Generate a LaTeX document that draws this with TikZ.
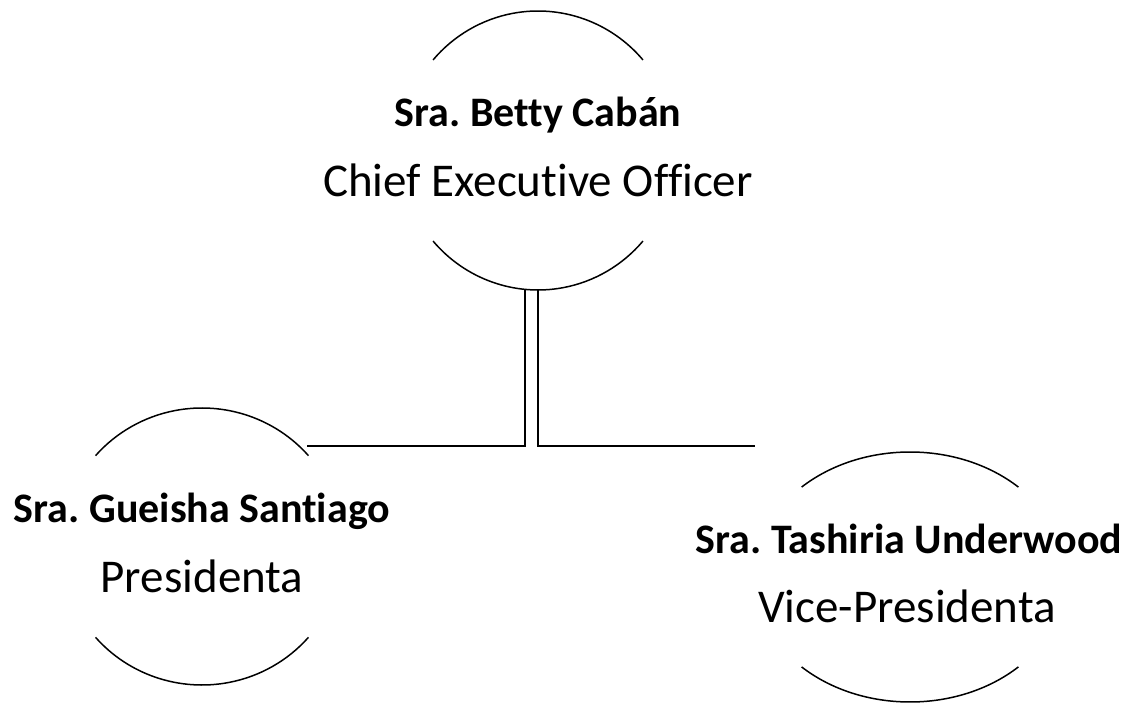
\documentclass[tikz,border=0pt]{standalone}
\usepackage{fontspec}
\setmainfont{Carlito}[Ligatures={NoCommon}]
\frenchspacing
\usepackage{tikz}
\usetikzlibrary{positioning,calc}
\tikzset{
    personname/.style={inner sep=0pt,anchor=base,font=\fontsize{42}{50}\selectfont\bfseries},
    personrole/.style={inner sep=0pt,anchor=base,font=\fontsize{47}{56}\selectfont},
    rim/.style={line width=1.5pt},
    link/.style={line width=1.8pt}
}

\begin{document}
\begin{tikzpicture}[x=1pt,y=1pt]
    \useasboundingbox (0,0) rectangle (1135,702);

    % Chief executive
    \coordinate (ceo) at (538,551.5);
    \node[personname] (ceoname) at (538,575) {Sra. Betty Cabán};
    \node[personrole] (ceorole) at (538,505) {Chief Executive Officer};
    \draw[rim] ([shift={(40.5:138 and 139.5)}]ceo) arc[start angle=40.5,end angle=139.5,x radius=138,y radius=139.5];
    \draw[rim] ([shift={(220.5:138 and 139.5)}]ceo) arc[start angle=220.5,end angle=319.5,x radius=138,y radius=139.5];

    % Presidenta
    \coordinate (pres) at (202,155.5);
    \node[personname] (presname) at (202,180) {Sra. Gueisha Santiago};
    \node[personrole] (presrole) at (202,110) {Presidenta};
    \draw[rim] ([shift={(41:141 and 138.5)}]pres) arc[start angle=41,end angle=139,x radius=141,y radius=138.5];
    \draw[rim] ([shift={(221:141 and 138.5)}]pres) arc[start angle=221,end angle=319,x radius=141,y radius=138.5];

    % Vice-presidenta
    \coordinate (vice) at (910,125);
    \node[personname] (vicename) at (909,149) {Sra. Tashiria Underwood};
    \node[personrole] (vicerole) at (907,80) {Vice-Presidenta};
    \draw[rim] ([shift={(46:156 and 125)}]vice) arc[start angle=46,end angle=134,x radius=156,y radius=125];
    \draw[rim] ([shift={(226:156 and 125)}]vice) arc[start angle=226,end angle=314,x radius=156,y radius=125];

    % Connectors
    \coordinate (ceoleft) at (525,412);
    \coordinate (ceoright) at (538,412);
    \coordinate (presend) at (307,256);
    \coordinate (viceend) at (755,256);
    \draw[link] (ceoleft) |- (presend);
    \draw[link] (ceoright) |- (viceend);
\end{tikzpicture}
\end{document}
